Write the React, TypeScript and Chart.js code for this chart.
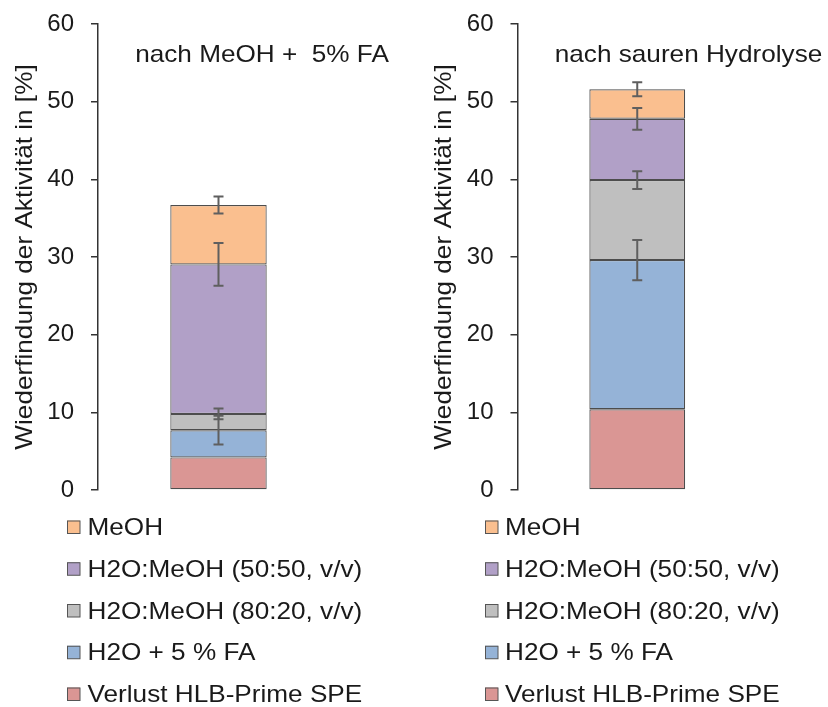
import { useEffect, useRef } from 'react';
import { Chart, registerables } from 'chart.js';

Chart.register(...registerables);

// ---- data ----
const seriesNames = [
  'Verlust HLB-Prime SPE',
  'H2O + 5 % FA',
  'H2O:MeOH (80:20, v/v)',
  'H2O:MeOH (50:50, v/v)',
  'MeOH',
];
const seriesColors = ['#DA9694', '#95B3D7', '#BFBFBF', '#B1A0C7', '#FABF8F'];

const leftCategory = ['nach MeOH +  5% FA'];
const leftValues = [4.2, 3.5, 2.1, 19.25, 7.65];
const leftErrors = [0, 1.85, 0.68, 2.75, 1.1];

const rightCategory = ['nach sauren Hydrolyse'];
const rightValues = [10.4, 19.2, 10.3, 7.9, 3.8];
const rightErrors = [0, 2.6, 1.15, 1.4, 0.9];

const yMin = 0;
const yMax = 60;
const yStep = 10;
const yAxisTitle = 'Wiederfindung der Aktivität in [%]';

// ---- styles ----
const FONT = '"Liberation Sans", Arial, sans-serif';
const TEXT = '#1a1a1a';
const STRETCH = 1.09;

type PanelCfg = {
  labels: string[];
  values: number[];
  errors: number[];
  axisX: number;
  rightPad: number;
  titleX: number;
  axisTitleX: number;
  boxX: number;
  textX: number;
};

const leftPanel: PanelCfg = {
  labels: leftCategory,
  values: leftValues,
  errors: leftErrors,
  axisX: 98,
  rightPad: 75,
  titleX: 262,
  axisTitleX: 31.5,
  boxX: 67,
  textX: 87.5,
};

const rightPanel: PanelCfg = {
  labels: rightCategory,
  values: rightValues,
  errors: rightErrors,
  axisX: 103.5,
  rightPad: 71,
  titleX: 274.5,
  axisTitleX: 36.5,
  boxX: 71,
  textX: 91,
};

function stretchedText(ctx: CanvasRenderingContext2D, text: string, x: number, y: number, align: CanvasTextAlign) {
  ctx.save();
  ctx.translate(x, y);
  ctx.scale(STRETCH, 1);
  ctx.textAlign = align;
  ctx.textBaseline = 'alphabetic';
  ctx.fillText(text, 0, 0);
  ctx.restore();
}

function makeErrorPlugin(values: number[], errors: number[]) {
  return {
    id: 'errorBars',
    afterDatasetsDraw(chart: any) {
      const ctx: CanvasRenderingContext2D = chart.ctx;
      const y = chart.scales.y;
      let cum = 0;
      values.forEach((v, i) => {
        cum += v;
        const e = errors[i];
        if (!e) return;
        const bar = chart.getDatasetMeta(i).data[0];
        const x = bar.x;
        const yTop = y.getPixelForValue(cum + e);
        const yBot = y.getPixelForValue(cum - e);
        ctx.save();
        ctx.strokeStyle = '#5f5f5f';
        ctx.lineWidth = 2;
        ctx.beginPath();
        ctx.moveTo(x, yTop);
        ctx.lineTo(x, yBot);
        ctx.moveTo(x - 5, yTop);
        ctx.lineTo(x + 5, yTop);
        ctx.moveTo(x - 5, yBot);
        ctx.lineTo(x + 5, yBot);
        ctx.stroke();
        ctx.restore();
      });
    },
  };
}

function makeTextPlugin(cfg: PanelCfg) {
  return {
    id: 'panelText',
    afterDraw(chart: any) {
      const ctx: CanvasRenderingContext2D = chart.ctx;
      const area = chart.chartArea;
      ctx.save();
      ctx.fillStyle = TEXT;
      ctx.font = `24px ${FONT}`;
      // panel title
      stretchedText(ctx, cfg.labels[0], cfg.titleX, 61.5, 'center');
      // y axis title
      ctx.save();
      ctx.translate(cfg.axisTitleX, (area.top + area.bottom) / 2);
      ctx.rotate(-Math.PI / 2);
      stretchedText(ctx, yAxisTitle, 0, 0, 'center');
      ctx.restore();
      // legend (reverse order, top = last series)
      const order = seriesNames.map((_, i) => i).reverse();
      order.forEach((idx, row) => {
        const cy = 527 + row * 41.75;
        ctx.fillStyle = seriesColors[idx];
        ctx.fillRect(cfg.boxX, cy - 6.5, 13, 13);
        ctx.strokeStyle = '#555';
        ctx.lineWidth = 1;
        ctx.strokeRect(cfg.boxX + 0.5, cy - 6.5 + 0.5, 12.5, 12.5);
        ctx.fillStyle = TEXT;
        stretchedText(ctx, seriesNames[idx], cfg.textX, cy + 8, 'left');
      });
      ctx.restore();
    },
  };
}

function Panel({ cfg }: { cfg: PanelCfg }) {
  const ref = useRef<HTMLCanvasElement | null>(null);
  useEffect(() => {
    if (!ref.current) return;
    const chart = new Chart(ref.current, {
      type: 'bar',
      data: {
        labels: cfg.labels,
        datasets: seriesNames.map((name, i) => ({
          label: name,
          data: [cfg.values[i]],
          backgroundColor: seriesColors[i],
          borderColor: '#4d4d4d',
          borderWidth: 1.2,
          borderSkipped: false,
          barPercentage: 0.4,
          categoryPercentage: 1,
        })),
      },
      options: {
        responsive: false,
        animation: false,
        devicePixelRatio: 1,
        layout: { padding: { left: 0, right: cfg.rightPad, top: 24, bottom: 217 } },
        plugins: {
          legend: { display: false },
          tooltip: { enabled: false },
          title: { display: false },
        },
        scales: {
          x: { stacked: true, display: false, offset: true },
          y: {
            stacked: true,
            min: yMin,
            max: yMax,
            ticks: { stepSize: yStep, font: { family: FONT, size: 24 }, color: TEXT, padding: 17 },
            grid: { drawOnChartArea: false, drawTicks: true, tickLength: 7, color: '#333', lineWidth: 1.5 },
            border: { display: true, color: '#333', width: 1.5 },
            afterFit: (s: any) => {
              s.width = cfg.axisX;
              s.paddingTop = 14;
              s.paddingBottom = 14;
            },
          },
        },
      } as any,
      plugins: [makeErrorPlugin(cfg.values, cfg.errors), makeTextPlugin(cfg)],
    });
    return () => chart.destroy();
  }, [cfg]);
  return <canvas ref={ref} width={414} height={707} style={{ display: 'block', width: 414, height: 707 }} />;
}

export default function App() {
  return (
    <div style={{ position: 'fixed', left: 0, top: 0, width: 828, height: 707, display: 'flex', background: '#fff' }}>
      <Panel cfg={leftPanel} />
      <Panel cfg={rightPanel} />
    </div>
  );
}
